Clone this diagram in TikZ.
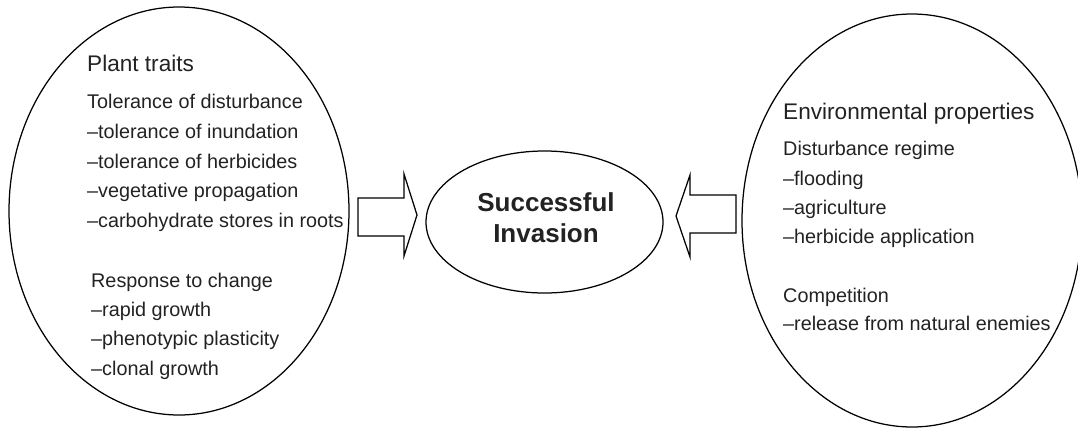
\documentclass[tikz,border=0pt]{standalone}
\usepackage{fontspec}
\setmainfont{Liberation Sans}
\usetikzlibrary{shapes.geometric}
\definecolor{txt}{HTML}{222222}
\tikzset{
  oval/.style={draw=black, line width=1.25pt, ellipse, inner sep=0pt},
  blockarrow/.style={draw=black, line width=1.25pt, fill=white, line join=miter},
  head/.style={anchor=base west, inner sep=0pt, text=txt, font=\fontsize{22.6}{27}\selectfont},
  item/.style={anchor=base west, inner sep=0pt, text=txt, font=\fontsize{19.8}{24}\selectfont},
  centre/.style={anchor=base, inner sep=0pt, text=txt, font=\fontsize{26}{31}\selectfont\bfseries}
}
\begin{document}
\begin{tikzpicture}[x=1pt, y=-1pt]
\useasboundingbox (0,0) rectangle (1078,428);
% ovals
\node[oval, minimum width=340pt, minimum height=408pt] (plant) at (179,211) {};
\node[oval, minimum width=340pt, minimum height=413pt] (env) at (912,220.5) {};
\node[oval, minimum width=237pt, minimum height=142pt] (inv) at (544.5,222) {};
% block arrows
\draw[blockarrow] (358,198) -- (404,198) -- (404,174) -- (417,215) -- (404,256) -- (404,236) -- (358,236) -- cycle;
\draw[blockarrow] (736,195) -- (690,195) -- (690,175) -- (676,216) -- (690,257) -- (690,233) -- (736,233) -- cycle;
% centre text
\node[centre] (t1) at (546,211) {Successful};
\node[centre] (t2) at (546,242) {Invasion};
% left text
\node[head] (p0) at (87,71) {Plant traits};
\node[item] (p1) at (87,108) {Tolerance of disturbance};
\node[item] (p2) at (87,138) {–tolerance of inundation};
\node[item] (p3) at (87,168) {–tolerance of herbicides};
\node[item] (p4) at (87,197) {–vegetative propagation};
\node[item] (p5) at (87,227) {–carbohydrate stores in roots};
\node[item] (p6) at (91,287) {Response to change};
\node[item] (p7) at (91,316) {–rapid growth};
\node[item] (p8) at (91,345) {–phenotypic plasticity};
\node[item] (p9) at (91,375) {–clonal growth};
% right text
\node[head] (e0) at (783,119) {Environmental properties};
\node[item] (e1) at (783,155) {Disturbance regime};
\node[item] (e2) at (783,185) {–flooding};
\node[item] (e3) at (783,214) {–agriculture};
\node[item] (e4) at (783,243) {–herbicide application};
\node[item] (e5) at (783,302) {Competition};
\node[item] (e6) at (783,330) {–release from natural enemies};
\end{tikzpicture}
\end{document}
